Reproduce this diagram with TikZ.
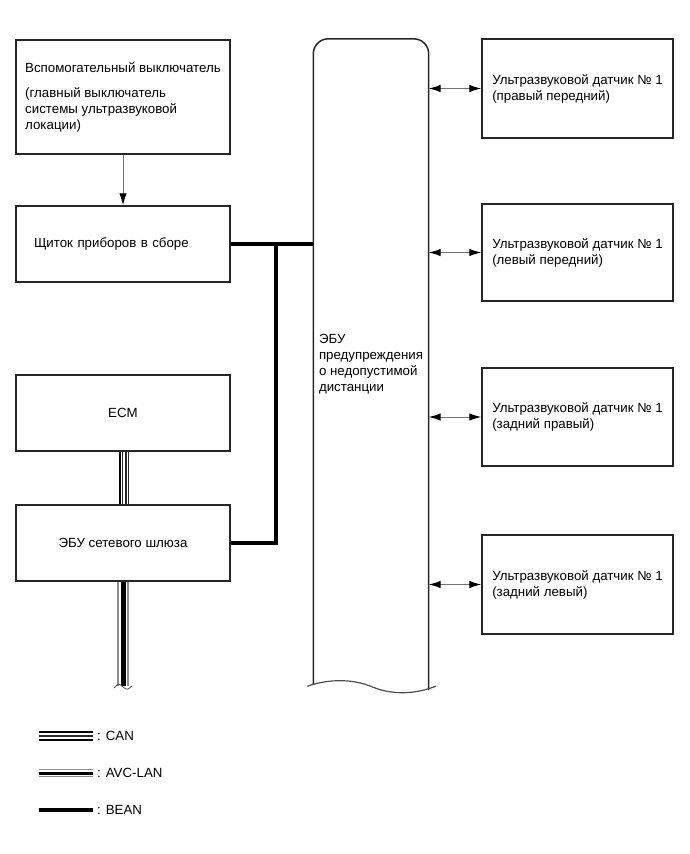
\documentclass[tikz,border=0pt]{standalone}
\usepackage{fontspec}
\setmainfont{Liberation Sans}
\usetikzlibrary{arrows.meta,calc}
\newcommand\diafont{\fontsize{13.3}{16}\selectfont}
\begin{document}
\begin{tikzpicture}[x=1pt,y=-1pt,
  box/.style={draw=black!85,line width=1.5pt,inner sep=0pt,font=\diafont,align=left,text=black},
  outline/.style={draw=black!85,line width=1.5pt},
  conn/.style={draw=black!55,line width=1pt},
  tipend/.style={-{Latex[length=12pt,width=7.5pt,black]}},
  tipboth/.style={{Latex[length=12pt,width=7.5pt,black]}-{Latex[length=12pt,width=7.5pt,black]}},
  bean/.style={line width=4pt,black},
  canthick/.style={line width=2pt,black},
  canthin/.style={line width=1.2pt,black!85},
  avcouter/.style={line width=1.2pt,black!45},
  legtext/.style={font=\diafont,anchor=west,inner sep=0pt,text=black}
]
\path[use as bounding box] (0,0) rectangle (690,854);

% left column
\node[box,minimum width=214pt,minimum height=114pt] (sw) at (123,97)
  {Вспомогательный выключатель\\[9pt](главный выключатель\\системы ультразвуковой\\локации)};
\node[box,minimum width=214pt,minimum height=76pt,text width=178pt] (panel) at (123,244)
  {Щиток приборов в сборе};
\node[box,minimum width=214pt,minimum height=76pt] (ecm) at (123,413) {ECM};
\node[box,minimum width=214pt,minimum height=76pt] (gw) at (123,543) {ЭБУ сетевого шлюза};

% ECU
\node[font=\diafont,align=left,minimum width=115pt,minimum height=651pt,inner sep=0pt,text=black] (ecu) at (371,364.5)
  {ЭБУ\\предупреждения\\о недопустимой\\дистанции};
\draw[outline,rounded corners=15pt] ($(ecu.south west)+(0,-5)$) |- (ecu.north) -| (ecu.south east);
\draw[outline,line width=1.2pt,draw=black!70] ($(ecu.south west)+(-6,-4)$)
  .. controls +(23,-8) and +(-18,-8) .. ($(ecu.south)+(2,-3)$)
  .. controls +(20,8) and +(-20,8) .. ($(ecu.south east)+(7,-4)$);

% sensors
\node[box,minimum width=191pt,minimum height=99pt] (s1) at (577.5,88.5)
  {Ультразвуковой датчик № 1\\(правый передний)};
\node[box,minimum width=191pt,minimum height=97pt] (s2) at (577.5,252.5)
  {Ультразвуковой датчик № 1\\(левый передний)};
\node[box,minimum width=191pt,minimum height=98pt] (s3) at (577.5,417)
  {Ультразвуковой датчик № 1\\(задний правый)};
\node[box,minimum width=191pt,minimum height=99pt] (s4) at (577.5,584.5)
  {Ультразвуковой датчик № 1\\(задний левый)};

\foreach \s in {s1,s2,s3,s4}
  \draw[conn,tipboth] (ecu.east |- \s.west) -- (\s.west);

% switch -> panel
\draw[conn,tipend] (sw) -- (panel);

% BEAN
\coordinate (bj) at (276,244);
\draw[bean] (panel.east) -- (panel.east -| ecu.west);
\draw[bean] (gw.east) -| (bj);

% CAN between ECM and gateway
\draw[canthick] ([xshift=-3.5pt]ecm.south) -- ([xshift=-3.5pt]gw.north);
\draw[canthin] ([xshift=-0.8pt]ecm.south) -- ([xshift=-0.8pt]gw.north);
\draw[canthin] ([xshift=3pt]ecm.south) -- ([xshift=3pt]gw.north);
\draw[canthin] ([xshift=5.2pt]ecm.south) -- ([xshift=5.2pt]gw.north);

% AVC-LAN below gateway
\coordinate (avcend) at (123,686);
\draw[avcouter] ([xshift=-5pt]gw.south) -- ([xshift=-5pt]avcend);
\draw[line width=5pt,black] (gw.south) -- (avcend);
\draw[avcouter] ([xshift=5pt]gw.south) -- ([xshift=5pt]avcend);
\draw[line width=0.8pt,black!70] ($(avcend)+(-9,2)$) .. controls +(5,-5) and +(-5,-4) .. ($(avcend)+(0,1)$)
  .. controls +(5,4) and +(-4,3) .. ($(avcend)+(9,0)$);

% legend
\coordinate (l1a) at (39,736); \coordinate (l1b) at (93,736);
\draw[canthick] ($(l1a)+(0,-4)$) -- ($(l1b)+(0,-4)$);
\draw[canthin] (l1a) -- (l1b);
\draw[canthick] ($(l1a)+(0,4)$) -- ($(l1b)+(0,4)$);
\node[legtext] (t1) at (97,736) {: CAN};

\coordinate (l2a) at (39,773); \coordinate (l2b) at (93,773);
\draw[avcouter] ($(l2a)+(0,-3.5)$) -- ($(l2b)+(0,-3.5)$);
\draw[line width=3pt,black] (l2a) -- (l2b);
\draw[avcouter] ($(l2a)+(0,3.5)$) -- ($(l2b)+(0,3.5)$);
\node[legtext] (t2) at (97,773) {: AVC-LAN};

\coordinate (l3a) at (39,810); \coordinate (l3b) at (93,810);
\draw[line width=3.5pt,black] (l3a) -- (l3b);
\node[legtext] (t3) at (97,810) {: BEAN};
\end{tikzpicture}
\end{document}
